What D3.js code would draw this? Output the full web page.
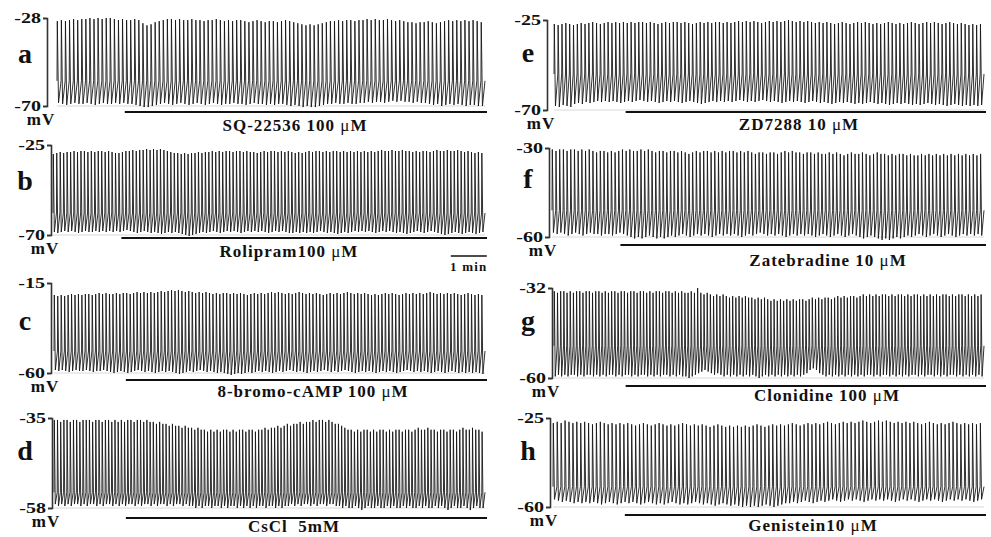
<!DOCTYPE html>
<html lang="en">
<head>
  <meta charset="UTF-8">
  <title>Spontaneous firing traces</title>
  <script src="https://d3js.org/d3.v7.min.js"></script>
  <style>
    body { margin: 0; background: #fff; }
    text { font-family: "Liberation Serif", "Times New Roman", serif; font-weight: bold; fill: #111; }
  </style>
</head>
<body>
  <div id="chart"></div>
  <script>
    // panel letters, drugs and the mV scale of each recording
    const panelLetters = ['a', 'b', 'c', 'd', 'e', 'f', 'g', 'h']
    const drugLabels = ['SQ-22536 100 μM', 'Rolipram100 μM', '8-bromo-cAMP 100 μM', 'CsCl  5mM',
      'ZD7288 10 μM', 'Zatebradine 10 μM', 'Clonidine 100 μM', 'Genistein10 μM']
    const scaleTop = [-28, -25, -15, -35, -25, -30, -32, -25]
    const scaleBottom = [-70, -70, -60, -58, -70, -60, -60, -60]
    const takeOff = [-58, -59, -49, -54, -52, -51, -50, -52]   // threshold of the upstroke, mV
    const drugStartMin = [1.9, 1.9, 2.0, 2.0, 2.0, 1.9, 2.0, 2.0]
    const traceMinutes = 12

    // peak and maximum diastolic potential of every action potential (mV)
    const peaksA = [-29.5,-29,-29.5,-29,-28.5,-29,-28.5,-28.5,-28,-28.5,-28,-28.5,-28,-28,-28.5,
      -29,-28.5,-29,-29,-28.5,-29,-30.5,-31.5,-31,-30,-29.5,-29,-28.5,-28.5,-29,
      -28.5,-29,-29,-28.5,-29,-29,-29.5,-29,-29,-28.5,-29,-29.5,-29,-29.5,-29,
      -29,-29.5,-30,-29.5,-29,-29.5,-30,-29.5,-29.5,-30,-29.5,-29,-29.5,-30,-30.5,
      -31,-31.5,-31,-31.5,-31,-30.5,-30,-29.5,-29.5,-29,-29.5,-29,-29,-29.5,-29,
      -29,-28.5,-29,-28.5,-29,-29,-28.5,-29,-29.5,-29,-29.5,-30,-30,-30.5,-30,
      -30,-29.5,-30,-30.5,-30,-29.5,-29,-29.5,-29,-29.5,-29,-29.5,-29,-29.5,-30]
    const troughsA = [-68.5,-69,-69.5,-69,-68.5,-69,-69,-68.5,-69,-69.5,-69,-68.5,-69,-69,-68.5,
      -69,-68.5,-69,-69,-69.5,-70,-70.5,-70.5,-70,-69.5,-69,-68.5,-69,-69.5,-69,
      -68.5,-69,-69.5,-69,-68.5,-69,-69.5,-69,-68.5,-69,-69.5,-69,-69,-68.5,-69,
      -69,-69.5,-69,-68.5,-69,-69,-69.5,-69,-69.5,-69,-69,-69.5,-70,-69.5,-70,
      -70.5,-70,-70.5,-70.5,-70,-69.5,-69,-69,-68.5,-69,-69,-68.5,-69,-69,-68.5,
      -68.5,-68,-68.5,-68,-68,-68.5,-68,-67.5,-68,-67.5,-68,-68,-68.5,-68,-68.5,
      -68.5,-69,-69.5,-69,-70,-69.5,-69,-69.5,-69,-69.5,-70,-69.5,-69.5,-70,-70]

    const peaksB = [-29.5,-29,-28.5,-29,-28.5,-28.5,-28,-28.5,-28,-28,-28.5,-28,-28.5,-28,-28,
      -28.5,-28,-28.5,-29,-29,-28.5,-28,-28,-27.5,-28,-27.5,-27.5,-27,-27.5,-27,
      -27.5,-27,-27.5,-28,-28.5,-29,-29,-29.5,-29,-29.5,-29,-29,-28.5,-29,-28.5,
      -28.5,-28,-28.5,-28,-28.5,-28,-28,-28.5,-28,-28,-28.5,-28,-28.5,-28.5,-29,
      -28.5,-28,-28.5,-28,-28,-28.5,-28,-28.5,-28,-28.5,-29,-28.5,-29,-28.5,-28,
      -28.5,-28,-28,-28.5,-28,-28.5,-28,-28,-28.5,-28,-28.5,-28,-28.5,-28,-28.5,
      -28,-28.5,-28,-28.5,-28,-27.5,-28,-28,-27.5,-28,-28,-27.5,-28,-28,-28.5,
      -28,-28.5,-28,-28,-28.5,-28,-27.5,-28,-28,-27.5,-28,-28,-27.5,-28,-28.5,
      -28,-28.5,-29,-28.5,-29]
    const troughsB = [-68.5,-69,-68.5,-68,-68.5,-68,-68.5,-69,-68.5,-68,-68.5,-68.5,-68,-68.5,-68,
      -68.5,-68,-68.5,-68,-68.5,-68,-67.5,-68,-68.5,-69,-68.5,-68,-68.5,-69,-68.5,
      -69,-69.5,-69,-68.5,-69,-68.5,-69,-69.5,-70,-70.5,-70,-69.5,-69,-68.5,-69,
      -68.5,-68,-68.5,-69,-68.5,-68,-68.5,-68,-68.5,-69,-68.5,-68,-68.5,-68,-68.5,
      -68,-68.5,-69,-68.5,-68,-68.5,-68,-68.5,-69,-69,-68.5,-69,-68.5,-69,-68.5,
      -69,-68.5,-68,-68.5,-69,-68.5,-69,-69.5,-69,-68.5,-69,-68.5,-68,-68.5,-68,
      -68.5,-68,-68.5,-69,-68.5,-68,-68.5,-68,-68.5,-69,-68.5,-69,-69.5,-69,-68.5,
      -68,-68.5,-69,-68.5,-68,-68.5,-69,-69.5,-70,-69.5,-69,-68.5,-69,-69.5,-69,
      -68.5,-69,-69.5,-69,-68.5]

    const peaksC = [-21,-21.5,-21,-21.5,-21,-20.5,-21,-20.5,-21,-20.5,-20.5,-21,-20.5,-20,-20.5,
      -20,-20.5,-20.5,-20,-20.5,-20,-20,-20.5,-20,-19.5,-20,-19.5,-20,-19.5,-20,
      -19.5,-19,-19.5,-19,-18.5,-19,-18.5,-19,-19.5,-19,-19.5,-20,-19.5,-20,-19.5,
      -20,-20.5,-20,-20.5,-20,-20,-20.5,-20,-20.5,-20,-20.5,-21,-20.5,-20,-20.5,
      -20,-20.5,-20,-19.5,-20,-19.5,-20,-20.5,-20,-20.5,-20,-19.5,-20,-20.5,-20,
      -20.5,-20,-20.5,-21,-20.5,-20,-20.5,-20,-20.5,-20,-19.5,-20,-20.5,-20,-20.5,
      -20,-20.5,-21,-20.5,-21,-20.5,-20,-20.5,-20,-20.5,-21,-20.5,-20,-20.5,-20,
      -20.5,-20,-20.5,-20,-19.5,-20,-20.5,-20,-20.5,-20,-20.5,-20,-20.5,-21,-20.5,
      -20,-20.5,-21,-20.5,-21]
    const troughsC = [-58.5,-59,-58.5,-59,-59.5,-59,-58.5,-59,-59,-58.5,-59,-59.5,-59,-59,-58.5,
      -59,-59.5,-60,-59.5,-59,-59.5,-60,-59.5,-59,-58.5,-59,-59.5,-59,-59.5,-60,
      -59.5,-59,-59.5,-59,-59.5,-60,-60.5,-60,-59.5,-59,-59.5,-59,-58.5,-59,-59.5,
      -59,-59.5,-60,-59.5,-60,-60.5,-61,-60.5,-60,-60.5,-60,-59.5,-60,-59.5,-59,
      -59.5,-59,-59.5,-60,-59.5,-59,-59.5,-59,-58.5,-59,-59.5,-59,-59.5,-60,-59.5,
      -59,-59.5,-59,-58.5,-59,-59.5,-59,-59.5,-59,-58.5,-59,-59.5,-60,-59.5,-59,
      -59.5,-59,-59.5,-60,-59.5,-59,-59.5,-59,-59.5,-60,-59.5,-59,-58.5,-59,-59.5,
      -59,-59.5,-59,-59.5,-60,-59.5,-59,-59.5,-60,-59.5,-59,-59.5,-60,-59.5,-60,
      -59.5,-60,-59.5,-60,-60.5]

    const peaksD = [-35.5,-35.5,-36,-35.5,-35.5,-36,-35.5,-35.5,-36,-35.5,-35.5,-35.5,-36,-35.5,-35.5,
      -36,-35.5,-35.5,-36,-35.5,-36,-35.5,-36,-35.5,-35.5,-36,-35.5,-35.5,-36,-35.5,
      -36,-36,-36.5,-36,-36.5,-36.5,-37,-36.5,-37,-37,-37.5,-37,-37.5,-37.5,-38,
      -37.5,-38,-38,-38.5,-38,-38.5,-38,-38.5,-38,-38,-38.5,-38,-38.5,-38,-38,
      -38.5,-38,-38,-38.5,-38,-38,-37.5,-38,-37.5,-37.5,-37,-37.5,-37,-36.5,-37,
      -36.5,-36.5,-36,-36.5,-36,-36,-35.5,-36,-35.5,-35.5,-36,-35.5,-36,-36.5,-36.5,
      -37,-37.5,-38,-38,-38.5,-38,-38.5,-38,-38,-38.5,-38,-38.5,-38,-38,-38.5,
      -38,-38.5,-38,-38,-38.5,-38,-38,-38.5,-38,-37.5,-38,-38,-37.5,-38,-38,
      -38.5,-38,-38,-38.5,-38,-38,-38.5,-38,-37.5,-38,-38,-37.5,-38,-38,-38.5]
    const troughsD = [-57,-57.5,-57,-57.5,-57,-57.5,-57,-57,-57.5,-57,-57.5,-57,-57,-57.5,-57,
      -57.5,-57,-57,-57.5,-57,-57.5,-57,-57.5,-57,-57,-57.5,-57,-57.5,-57,-57,
      -57.5,-57,-57.5,-57,-57,-57.5,-57,-57.5,-57,-57,-57.5,-57,-57.5,-57.5,-58,
      -57.5,-58,-57.5,-57.5,-58,-57.5,-57.5,-58,-57.5,-58,-57.5,-57.5,-58,-57.5,-58,
      -57.5,-58,-57.5,-58,-57.5,-57.5,-58,-57.5,-57.5,-58,-57.5,-58,-57.5,-57.5,-57,
      -57.5,-57,-57.5,-57,-57,-57.5,-57,-57.5,-57,-57,-57.5,-57,-57,-57.5,-57.5,
      -58,-57.5,-58,-58,-57.5,-58,-58.5,-58,-57.5,-58,-58,-57.5,-58,-58,-57.5,
      -58,-57.5,-58,-58,-57.5,-58,-57.5,-58,-58,-57.5,-58,-57.5,-58,-58,-57.5,
      -58,-57.5,-58,-58.5,-58,-57.5,-58,-58,-57.5,-58,-58.5,-58,-57.5,-58,-58]

    const peaksE = [-27,-27.5,-27,-26.5,-27,-27.5,-27,-26.5,-27,-26.5,-26,-26.5,-27,-26.5,-26,
      -26.5,-26,-26.5,-26,-26.5,-26,-26.5,-26,-26,-26.5,-26,-26.5,-27,-26.5,-26,
      -26.5,-26,-26,-26.5,-26,-26.5,-27,-26.5,-26,-26.5,-26,-26.5,-26,-26,-26.5,
      -26,-26.5,-26,-25.5,-26,-25.5,-26,-25.5,-26,-26.5,-26,-25.5,-26,-25.5,-26,
      -25.5,-25,-25.5,-26,-25.5,-26,-25.5,-26,-26.5,-26,-26.5,-26,-26.5,-27,-26.5,
      -26,-26.5,-27,-26.5,-26,-26.5,-26,-26.5,-27,-26.5,-27,-26.5,-26,-26.5,-27,
      -26.5,-27,-26.5,-26,-26.5,-27,-26.5,-26,-26.5,-26,-26.5,-27,-26.5,-26,-26.5,
      -27,-26.5,-27,-27.5,-27,-27.5,-27]
    const troughsE = [-68,-68.5,-67.5,-68,-68.5,-67,-66.5,-67,-66,-66.5,-66,-65.5,-66,-65.5,-66,
      -65.5,-66,-66.5,-66,-65.5,-66,-65.5,-65,-65.5,-66,-65.5,-66,-66.5,-66,-65.5,
      -66,-65.5,-66,-66.5,-66,-65.5,-66,-66.5,-67,-66.5,-66,-65.5,-66,-65.5,-66,
      -65.5,-66,-65.5,-65,-65.5,-66,-65.5,-66,-65.5,-65,-65.5,-66,-65.5,-66,-66.5,
      -66,-65.5,-66,-65.5,-66,-66.5,-66,-65.5,-66,-66.5,-66,-66.5,-67,-66.5,-66,
      -66.5,-66,-66.5,-67,-66.5,-67,-66.5,-66,-66.5,-67,-66.5,-67,-67.5,-67,-66.5,
      -67,-66.5,-67,-67.5,-67,-67.5,-67,-66.5,-67,-67.5,-67,-67.5,-68,-67.5,-67,
      -67.5,-68,-67.5,-68,-67.5,-68,-67.5]

    const peaksF = [-30.5,-31,-30.5,-30.5,-31,-30.5,-30.5,-31,-30.5,-31,-30.5,-31,-31.5,-31,-31,
      -31.5,-31,-31.5,-31,-30.5,-31,-30.5,-31,-31,-30.5,-31,-30.5,-31,-31.5,-31,
      -31,-31.5,-31,-31,-31.5,-31,-31.5,-32,-31.5,-31,-31.5,-31,-31,-31.5,-31,
      -31.5,-31,-31.5,-31,-31,-31.5,-31,-31.5,-31,-31.5,-32,-31.5,-31.5,-32,-31.5,
      -31.5,-32,-31.5,-31,-31.5,-31,-31.5,-31.5,-32,-31.5,-31.5,-32,-31.5,-32,-32,
      -31.5,-32,-31.5,-32,-32.5,-32,-31.5,-32,-32,-31.5,-32,-32.5,-32,-31.5,-32,
      -32,-32.5,-32,-32.5,-32,-32,-32.5,-32,-32.5,-32.5,-32,-32.5,-32,-32.5,-32,
      -32.5,-32,-32.5,-32,-32.5,-32,-32.5,-32,-32.5,-32,-32.5,-32]
    const troughsF = [-58.5,-59,-58.5,-59,-59.5,-59,-58.5,-59,-59.5,-59,-58.5,-59,-59,-59.5,-59,
      -59,-59.5,-59,-58.5,-59,-59.5,-60,-60.5,-60,-60.5,-60,-59.5,-60,-60.5,-60,
      -60.5,-60,-59.5,-60,-59.5,-59,-59.5,-60,-59.5,-59,-59.5,-59,-59.5,-60,-59.5,
      -59,-59.5,-59,-59.5,-59,-59.5,-60,-59.5,-59,-59.5,-59,-58.5,-59,-59.5,-59,
      -59.5,-59,-59.5,-60,-59.5,-59,-59.5,-59,-59.5,-59,-59.5,-60,-59.5,-59,-59.5,
      -60,-59.5,-59,-59.5,-60,-59.5,-59,-59.5,-60,-60.5,-60,-59.5,-60,-60.5,-61,
      -60.5,-61,-60.5,-60,-60.5,-60,-59.5,-60,-59.5,-59,-59.5,-60,-59.5,-59,-59.5,
      -60,-59.5,-59,-59.5,-60,-59.5,-59,-59.5,-59,-59.5,-59,-59.5]

    const peaksG = [-33,-33.5,-33,-33,-33.5,-33,-33.5,-33,-33,-33.5,-33,-33,-33.5,-33,-33,
      -33.5,-33,-33.5,-33,-33,-33.5,-33,-33,-33.5,-33,-33,-33.5,-33,-33,-33.5,
      -33,-33.5,-33,-33,-33.5,-33,-33,-33.5,-33,-33.5,-33,-33.5,-33.5,-33,-33.5,
      -32,-33.5,-34,-33.5,-34,-34.5,-34,-34.5,-34,-34.5,-35,-34.5,-35,-34.5,-35,
      -34.5,-35,-35,-35.5,-35,-35.5,-35,-35.5,-36,-35.5,-36,-35.5,-36,-35.5,-36,
      -35.5,-36,-35.5,-35.5,-36,-35.5,-35,-35.5,-35,-35.5,-35,-35,-35.5,-35,-34.5,
      -35,-34.5,-35,-34.5,-34.5,-35,-34.5,-34,-34.5,-34,-34.5,-34,-34.5,-34,-34,
      -34.5,-34,-34.5,-34,-34,-34.5,-34,-34.5,-34,-34,-34.5,-34,-34.5,-34,-34.5,
      -34,-34.5,-34,-34,-34.5,-34,-34.5,-34,-34,-34.5,-34,-34.5,-34,-34.5,-34]
    const troughsG = [-59.5,-59,-59.5,-59,-59.5,-59,-59,-59.5,-59,-59.5,-59,-59,-59.5,-59,-59.5,
      -59,-59.5,-59,-59,-59.5,-59,-59.5,-59,-59,-59.5,-59,-59.5,-59,-59,-59.5,
      -59,-59.5,-59,-59.5,-59,-59,-59.5,-59,-59.5,-59,-59.5,-59.5,-60,-59.5,-59,
      -58.5,-58,-57.5,-58,-58.5,-59,-58.5,-59,-59.5,-59,-59.5,-59,-59.5,-59,-59.5,
      -59,-59.5,-59,-59.5,-60,-59.5,-59,-59.5,-59,-59.5,-59,-59.5,-59,-59.5,-59,
      -59.5,-59,-59.5,-59,-58.5,-57.5,-57,-57.5,-58.5,-59,-59.5,-59,-59.5,-59,-59.5,
      -59,-59.5,-59,-59.5,-59,-59.5,-59,-59.5,-59,-59,-59.5,-59,-59.5,-59,-59,
      -59.5,-59,-59.5,-59,-59.5,-59,-59.5,-59,-59,-59.5,-59,-59.5,-59,-59,-59.5,
      -59,-59.5,-59,-59.5,-59,-59,-59.5,-59,-59.5,-59,-59.5,-59,-59.5,-59,-59.5]

    const peaksH = [-27,-26.5,-27,-26,-26.5,-27,-26.5,-27,-26.5,-27,-27.5,-27,-26.5,-27,-27.5,
      -27,-27.5,-27,-27.5,-27,-27.5,-28,-27.5,-27,-27.5,-28,-27.5,-27,-27.5,-28,
      -27.5,-28,-27.5,-27,-27.5,-28,-27.5,-28,-27.5,-28,-28.5,-28,-27.5,-28,-28.5,
      -28,-28.5,-28,-28.5,-28,-28.5,-28,-27.5,-28,-28.5,-28,-27.5,-28,-27.5,-28,
      -27.5,-27,-27.5,-28,-27.5,-27,-27.5,-27,-27.5,-27,-26.5,-27,-27.5,-27,-26.5,
      -27,-26.5,-27,-26.5,-26,-26.5,-27,-26.5,-26,-26.5,-26,-26.5,-27,-26.5,-27,
      -26.5,-27,-26.5,-27,-27.5,-27,-26.5,-27,-27.5,-27,-27.5,-27,-26.5,-27,-27.5,
      -27,-27.5,-27,-27.5,-27]
    const troughsH = [-57,-57.5,-58,-57.5,-58,-58.5,-58,-58.5,-58,-58.5,-58,-58.5,-59,-58.5,-58,
      -58.5,-59,-58.5,-58,-58.5,-58,-58.5,-59,-58.5,-58,-58.5,-59,-58.5,-59,-58.5,
      -58,-58.5,-59,-58.5,-59,-58.5,-58,-58.5,-59,-58.5,-59,-59.5,-59,-58.5,-59,
      -59.5,-59,-59.5,-60,-59.5,-60,-59.5,-60,-59.5,-59,-59.5,-60,-59.5,-59,-58.5,
      -58.5,-58,-58.5,-58,-57.5,-58,-58.5,-58,-57.5,-58,-57.5,-57,-57.5,-58,-57.5,
      -57,-57.5,-57,-57.5,-58,-57.5,-57,-57.5,-57,-57.5,-57,-57.5,-58,-57.5,-57,
      -57.5,-57,-57.5,-58,-57.5,-57,-57.5,-57,-57.5,-58,-57.5,-57,-57.5,-57,-57.5,
      -57,-57.5,-58,-57.5,-57]

    const peaks = [peaksA, peaksB, peaksC, peaksD, peaksE, peaksF, peaksG, peaksH]
    const troughs = [troughsA, troughsB, troughsC, troughsD, troughsE, troughsF, troughsG, troughsH]

    // where each panel sits on the page
    const layout = [
      { col: 0, yTop: 18, yBot: 106, barX: 47, x0: 57, lineY: 112, labelX: 295, labelY: 131, letterY: 63 },
      { col: 0, yTop: 145, yBot: 235, barX: 51, x0: 53, lineY: 238, labelX: 289, labelY: 257, letterY: 190 },
      { col: 0, yTop: 283, yBot: 373, barX: 51, x0: 54, lineY: 380, labelX: 313, labelY: 397, letterY: 330 },
      { col: 0, yTop: 418, yBot: 508, barX: 52, x0: 54, lineY: 518, labelX: 294, labelY: 532, letterY: 460 },
      { col: 1, yTop: 20, yBot: 110, barX: 547, x0: 554, lineY: 112, labelX: 799, labelY: 130, letterY: 62 },
      { col: 1, yTop: 148, yBot: 237, barX: 549, x0: 552, lineY: 245, labelX: 828, labelY: 266, letterY: 188 },
      { col: 1, yTop: 288, yBot: 378, barX: 552, x0: 554, lineY: 386, labelX: 827, labelY: 401, letterY: 330 },
      { col: 1, yTop: 418, yBot: 507, barX: 550, x0: 553, lineY: 515, labelX: 813, labelY: 531, letterY: 460 }
    ]
    const colRight = [485, 984]
    const letterX = [25, 528]

    const svg = d3.select('#chart').append('svg')
      .attr('width', 991)
      .attr('height', 537)
      .style('background', '#fff')

    const line = d3.line()

    layout.forEach((L, k) => {
      const x1 = colRight[L.col]
      const pk = peaks[k]
      const tr = troughs[k]
      const n = pk.length

      const xSpike = d3.scaleLinear().domain([0, n]).range([L.x0, x1])
      const xMin = d3.scaleLinear().domain([0, traceMinutes]).range([L.x0, x1])
      const y = d3.scaleLinear().domain([scaleBottom[k], scaleTop[k]]).range([L.yBot, L.yTop])

      const g = svg.append('g')

      // faint baseline of the recording
      g.append('line')
        .attr('x1', L.x0).attr('x2', x1)
        .attr('y1', L.yBot).attr('y2', L.yBot)
        .attr('stroke', '#d8d8d8')
        .attr('stroke-width', 1)

      // the trace: upstroke, repolarisation, diastolic depolarisation
      const pts = []
      pk.forEach((p, i) => {
        const xa = xSpike(i)
        const dx = xSpike(i + 1) - xa
        pts.push([xa, y(takeOff[k])])
        pts.push([xa + 0.3, y(p)])
        pts.push([xa + 0.3 + 0.3 * dx, y(tr[i])])
      })
      pts.push([x1, y(takeOff[k])])

      g.append('path')
        .attr('d', line(pts))
        .attr('fill', 'none')
        .attr('stroke', '#151515')
        .attr('stroke-width', 1)
        .attr('stroke-opacity', 0.88)

      // mV scale bar
      const axis = d3.axisLeft(y)
        .tickValues([scaleBottom[k], scaleTop[k]])
        .tickSizeInner(4)
        .tickSizeOuter(4)
        .tickFormat(d => String(d))
      const ax = g.append('g')
        .attr('transform', `translate(${L.barX},0)`)
        .call(axis)
      ax.select('.domain').attr('stroke', '#333').attr('stroke-width', 1.6)
      ax.selectAll('.tick line').attr('stroke', '#333').attr('stroke-width', 1.6)
      ax.selectAll('.tick text')
        .attr('x', 0)
        .attr('transform', 'translate(-6,0) scale(1.38,1)')
        .style('font-family', '"Liberation Serif", "Times New Roman", serif')
        .style('font-size', '14.5px')
        .style('font-weight', 'bold')
        .attr('fill', '#111')

      g.append('text')
        .attr('x', L.barX - 6)
        .attr('y', L.yBot + 19)
        .attr('text-anchor', 'middle')
        .style('font-size', '17px')
        .style('letter-spacing', '1px')
        .text('mV')

      // panel letter
      g.append('text')
        .attr('x', letterX[L.col])
        .attr('y', L.letterY)
        .attr('text-anchor', 'middle')
        .style('font-size', '28px')
        .text(panelLetters[k])

      // drug application bar and label
      g.append('line')
        .attr('x1', xMin(drugStartMin[k])).attr('x2', xMin(traceMinutes) + 2)
        .attr('y1', L.lineY).attr('y2', L.lineY)
        .attr('stroke', '#111')
        .attr('stroke-width', 2)

      const parts = drugLabels[k].split('μ')
      const lbl = g.append('text')
        .attr('x', L.labelX)
        .attr('y', L.labelY)
        .attr('text-anchor', 'middle')
        .style('font-size', '17px')
        .style('letter-spacing', '1px')
        .style('white-space', 'pre')
      lbl.append('tspan').text(parts[0])
      if (parts.length > 1) {
        lbl.append('tspan').style('font-weight', 'normal').text('μ')
        lbl.append('tspan').text(parts[1])
      }

      // time calibration under trace b
      if (k === 1) {
        g.append('line')
          .attr('x1', xMin(traceMinutes - 0.95)).attr('x2', xMin(traceMinutes + 0.05))
          .attr('y1', 256).attr('y2', 256)
          .attr('stroke', '#111')
          .attr('stroke-width', 1.6)
        g.append('text')
          .attr('x', (xMin(traceMinutes - 0.95) + xMin(traceMinutes + 0.05)) / 2)
          .attr('y', 271)
          .attr('text-anchor', 'middle')
          .style('font-size', '13px')
          .style('letter-spacing', '1.2px')
          .text('1 min')
      }
    })
  </script>
</body>
</html>
